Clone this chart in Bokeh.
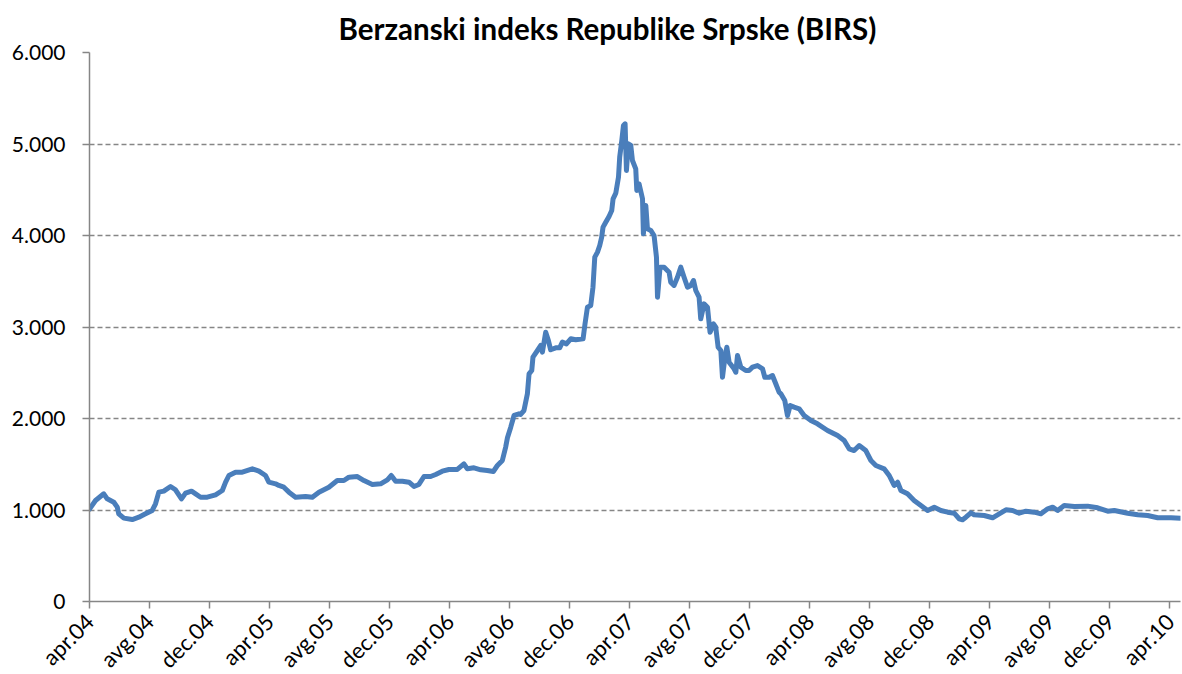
import math
from bokeh.plotting import figure
from bokeh.models import FixedTicker, Range1d
from bokeh.embed import file_html
from bokeh.resources import INLINE

# ---- data: months since April 2004, index value ----
months = [0.00, 0.40, 0.95, 1.18, 1.62, 1.85, 1.95, 2.29, 2.85, 3.29, 3.73, 4.18, 4.40, 4.62, 4.95,
          5.40, 5.73, 6.13, 6.40, 6.80, 7.07, 7.40, 7.85, 8.40, 8.85, 9.07, 9.29, 9.73, 10.18, 10.85,
          11.29, 11.73, 11.95, 12.40, 12.62, 12.95, 13.29, 13.73, 14.40, 14.85, 15.29, 15.95, 16.51,
          16.95, 17.29, 17.85, 18.29, 18.85, 19.40, 19.85, 20.11, 20.40, 20.85, 21.29, 21.62, 21.95,
          22.29, 22.73, 23.07, 23.51, 23.95, 24.51, 24.95, 25.18, 25.62, 26.07, 26.51, 26.91, 27.18,
          27.51, 27.73, 27.85, 28.07, 28.29, 28.62, 28.73, 28.95, 29.18, 29.29, 29.47, 29.55, 29.85,
          30.07, 30.18, 30.40, 30.58, 30.73, 31.07, 31.33, 31.51, 31.78, 32.07, 32.40, 32.89, 33.02,
          33.18, 33.40, 33.55, 33.67, 33.85, 34.00, 34.13, 34.22, 34.40, 34.62, 34.80, 34.89, 35.07,
          35.25, 35.33, 35.47, 35.58, 35.69, 35.78, 35.90, 36.07, 36.18, 36.40, 36.47, 36.62, 36.85,
          36.91, 37.07, 37.18, 37.40, 37.62, 37.78, 37.85, 38.02, 38.29, 38.62, 38.73, 38.95, 39.18,
          39.40, 39.62, 39.85, 40.07, 40.25, 40.40, 40.62, 40.73, 40.95, 41.18, 41.35, 41.58, 41.73,
          41.89, 42.07, 42.18, 42.33, 42.47, 42.62, 42.95, 43.07, 43.18, 43.40, 43.73, 43.95, 44.18,
          44.51, 44.85, 45.00, 45.29, 45.51, 45.73, 45.95, 46.07, 46.33, 46.51, 46.69, 46.95, 47.29,
          47.62, 48.07, 48.51, 49.18, 49.85, 50.29, 50.62, 50.95, 51.29, 51.73, 52.07, 52.40, 52.95,
          53.29, 53.62, 53.85, 54.07, 54.51, 54.95, 55.40, 55.85, 56.29, 56.73, 57.18, 57.62, 57.95,
          58.18, 58.40, 58.73, 58.95, 59.62, 60.18, 60.62, 61.07, 61.51, 61.95, 62.40, 62.95, 63.40,
          63.85, 64.18, 64.51, 64.95, 65.62, 66.51, 67.18, 67.85, 68.29, 69.18, 69.85, 70.51, 71.18,
          72.07, 72.70]
birs = [1010, 1104, 1177, 1122, 1085, 1031, 958, 911, 896, 921, 958, 995, 1068, 1195, 1206,
        1257, 1221, 1122, 1184, 1206, 1177, 1140, 1140, 1166, 1213, 1304, 1377, 1413, 1413, 1450,
        1424, 1377, 1304, 1286, 1268, 1249, 1195, 1140, 1148, 1140, 1195, 1249, 1322,
        1322, 1359, 1366, 1322, 1279, 1286, 1330, 1377, 1315, 1315, 1304, 1257, 1279,
        1366, 1366, 1388, 1424, 1443, 1443, 1505, 1450, 1461, 1439, 1432, 1421, 1486,
        1541, 1686, 1790, 1905, 2033, 2051, 2044, 2087, 2270, 2488, 2525, 2670, 2743,
        2798, 2725, 2943, 2852, 2751, 2772, 2772, 2834, 2816, 2871, 2860, 2871, 3035,
        3216, 3235, 3435, 3763, 3818, 3891, 3982, 4091, 4145, 4208, 4273, 4401, 4463,
        4638, 4856, 5038, 5202, 5220, 4710, 5002, 4984, 4820, 4729, 4492, 4565, 4401,
        4018, 4328, 4073, 4055, 4000, 3763, 3326, 3654, 3654, 3599, 3490, 3454, 3544,
        3654, 3544, 3435, 3454, 3508, 3399, 3326, 3089, 3253, 3216, 2943, 3035, 2998,
        2779, 2743, 2451, 2652, 2779, 2615, 2543, 2506, 2689, 2561, 2525, 2525, 2561,
        2579, 2543, 2451, 2451, 2470, 2380, 2288, 2270, 2197, 2033, 2142, 2124, 2106,
        2033, 1978, 1942, 1869, 1814, 1760, 1669, 1650, 1705, 1650, 1541, 1486, 1450,
        1377, 1268, 1304, 1213, 1177, 1104, 1049, 995, 1031, 995, 976, 965, 904,
        893, 921, 969, 948, 940, 915, 958, 1002, 995, 965, 987, 976, 958,
        1013, 1031, 995, 1049, 1038, 1042, 1024, 987, 995, 965, 948, 940, 915,
        915, 911]

x_tick_months = [0, 4, 8, 12, 16, 20, 24, 28, 32, 36, 40, 44, 48, 52, 56, 60, 64, 68, 72]
x_tick_labels = ["apr.04", "avg.04", "dec.04", "apr.05", "avg.05", "dec.05", "apr.06", "avg.06",
                 "dec.06", "apr.07", "avg.07", "dec.07", "apr.08", "avg.08", "dec.08", "apr.09",
                 "avg.09", "dec.09", "apr.10"]
y_ticks = [0, 1000, 2000, 3000, 4000, 5000, 6000]
y_tick_labels = ["0", "1.000", "2.000", "3.000", "4.000", "5.000", "6.000"]

title_text = "Berzanski indeks Republike Srpske (BIRS)"

FONT = "Lato"
AXIS_GRAY = "#868686"

p = figure(width=1182, height=674, output_backend="svg", toolbar_location=None,
           x_range=Range1d(0, 72.7), y_range=Range1d(0, 6000),
           frame_width=1091, frame_height=549,
           min_border_left=89, min_border_right=2, min_border_top=52, min_border_bottom=60)
p.outline_line_color = None
p.background_fill_color = "white"
p.border_fill_color = "white"

p.title.text = title_text
p.title.text_font = FONT
p.title.text_font_style = "bold"
p.title.text_font_size = "29.5px"
p.title.align = "left"
p.title.offset = 249
p.title.standoff = 14
p.title.text_color = "black"

p.line(months, birs, line_color="#4A7EBB", line_width=5, line_join="round", line_cap="round")

# grid
p.xgrid.visible = False
p.ygrid.ticker = FixedTicker(ticks=y_ticks)
p.ygrid.grid_line_color = AXIS_GRAY
p.ygrid.grid_line_dash = "5 3"
p.ygrid.grid_line_width = 1.3

# axes
xa = p.xaxis[0]
xa.ticker = FixedTicker(ticks=x_tick_months)
xa.major_label_overrides = {m: lab for m, lab in zip(x_tick_months, x_tick_labels)}
xa.major_label_orientation = math.pi / 4
ya = p.yaxis[0]
ya.ticker = FixedTicker(ticks=y_ticks)
ya.major_label_overrides = {v: lab for v, lab in zip(y_ticks, y_tick_labels)}

for ax in (xa, ya):
    ax.axis_line_color = AXIS_GRAY
    ax.axis_line_width = 1.5
    ax.major_tick_line_color = AXIS_GRAY
    ax.major_tick_line_width = 1.5
    ax.major_tick_out = 7
    ax.major_tick_in = 0
    ax.minor_tick_line_color = None
    ax.major_label_text_font = FONT
    ax.major_label_text_color = "black"
ya.major_label_text_font_size = "21px"
xa.major_label_text_font_size = "22px"
ya.major_label_standoff = 17
xa.major_label_standoff = 9

open("out.html", "w").write(file_html(p, INLINE))
